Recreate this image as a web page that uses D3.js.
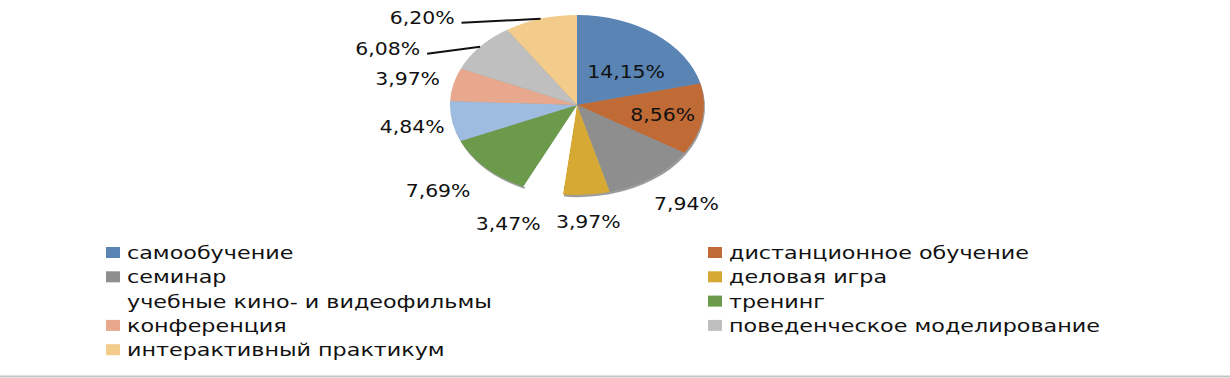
<!DOCTYPE html>
<html><head><meta charset="utf-8">
<script src="https://cdn.jsdelivr.net/npm/d3@7"></script>
<style>
html,body{margin:0;padding:0;background:#fff;}
svg{display:block;}
text{font-family:"DejaVu Sans",sans-serif;fill:#111;}
</style></head>
<body>
<svg id="chart" width="1230" height="378"></svg>
<script>
// ---- data ----
const categories = ["самообучение","дистанционное обучение","семинар","деловая игра","учебные кино- и видеофильмы","тренинг","","конференция","поведенческое моделирование","интерактивный практикум"];
const values = [14.15, 8.56, 7.94, 3.97, 3.47, 7.69, 4.84, 3.97, 6.08, 6.20];
const labels = ["14,15%","8,56%","7,94%","3,97%","3,47%","7,69%","4,84%","3,97%","6,08%","6,20%"];
const colors = ["#5a84b4","#c06a35","#8e8e8e","#d6a934","#ffffff","#6a9a4a","#9ebbe0","#e8a88e","#bfbfbf","#f3cb8b"];

// ---- layout ----
const W = 1230, H = 378;
const cx = 577, cy = 105, rx = 127, ry = 90;
// label radial factors (relative to ellipse) and small nudges
const labelFactor = [0.55, 0.7, 1.36, 1.29, 1.36, 1.45, 1.32, 1.37, null, null];
const labelNudge = [[6,6],[-2,0],[7,0],[-1,1],[-22,1],[-7,-5],[0,0],[0,2],[0,0],[0,0]];
const leader = {8: {dx: -53, dy: 7}, 9: {dx: -79, dy: 4}};
const labelScale = 1.2, legendScale = 1.31;

const svg = d3.select("#chart");
const pie = d3.pie().value(d => d).sort(null);
const arcs = pie(values);
const arc = d3.arc().innerRadius(0).outerRadius(rx);

const g = svg.append("g").attr("transform", `translate(${cx},${cy}) scale(1,${ry/rx})`);
// soft shadow
g.append("g").attr("transform","translate(1,3)")
  .selectAll("path").data(arcs).join("path")
  .attr("d", arc)
  .attr("fill", (d,i) => i === 4 ? "none" : "#4a4a4a")
  .attr("opacity", 0.55);
g.append("g").selectAll("path").data(arcs).join("path")
  .attr("d", arc)
  .attr("fill", (d,i) => colors[i]);

function ellPoint(a, f) {
  return [cx + rx * f * Math.sin(a), cy - ry * f * Math.cos(a)];
}

const lab = svg.append("g");
arcs.forEach((d, i) => {
  const mid = (d.startAngle + d.endAngle) / 2;
  let x, y, anchor = "middle";
  if (leader[i]) {
    const [ex, ey] = ellPoint(mid, 1);
    const sx = ex + leader[i].dx, sy = ey + leader[i].dy;
    lab.append("line").attr("x1", sx).attr("y1", sy).attr("x2", ex).attr("y2", ey)
      .attr("stroke", "#111").attr("stroke-width", 2);
    x = sx - 7; y = sy - 5; anchor = "end";
  } else {
    [x, y] = ellPoint(mid, labelFactor[i]);
  }
  x += labelNudge[i][0]; y += labelNudge[i][1];
  lab.append("text")
    .attr("transform", `translate(${x},${y}) scale(${labelScale},1)`)
    .attr("text-anchor", anchor)
    .attr("dy", "0.36em")
    .attr("font-size", 17)
    .text(labels[i]);
});

// ---- legend ----
const legendItems = categories.map((c, i) => ({name: c, color: colors[i]})).filter(d => d.name !== "");
const colX = [106, 708], rowY0 = 253, rowH = 24.3;
const leg = svg.append("g");
legendItems.forEach((d, k) => {
  const col = k % 2, row = Math.floor(k / 2);
  const y = rowY0 + row * rowH;
  leg.append("rect").attr("x", colX[col]).attr("y", y - 6).attr("width", 14).attr("height", 11)
    .attr("fill", d.color);
  leg.append("text")
    .attr("transform", `translate(${colX[col] + 21},${y}) scale(${legendScale},1)`)
    .attr("dy", "0.36em")
    .attr("font-size", 17)
    .text(d.name);
});

svg.append("line").attr("x1", 0).attr("x2", W).attr("y1", 376.5).attr("y2", 376.5)
  .attr("stroke", "#c4c4c4").attr("stroke-width", 2);
</script>
</body></html>
